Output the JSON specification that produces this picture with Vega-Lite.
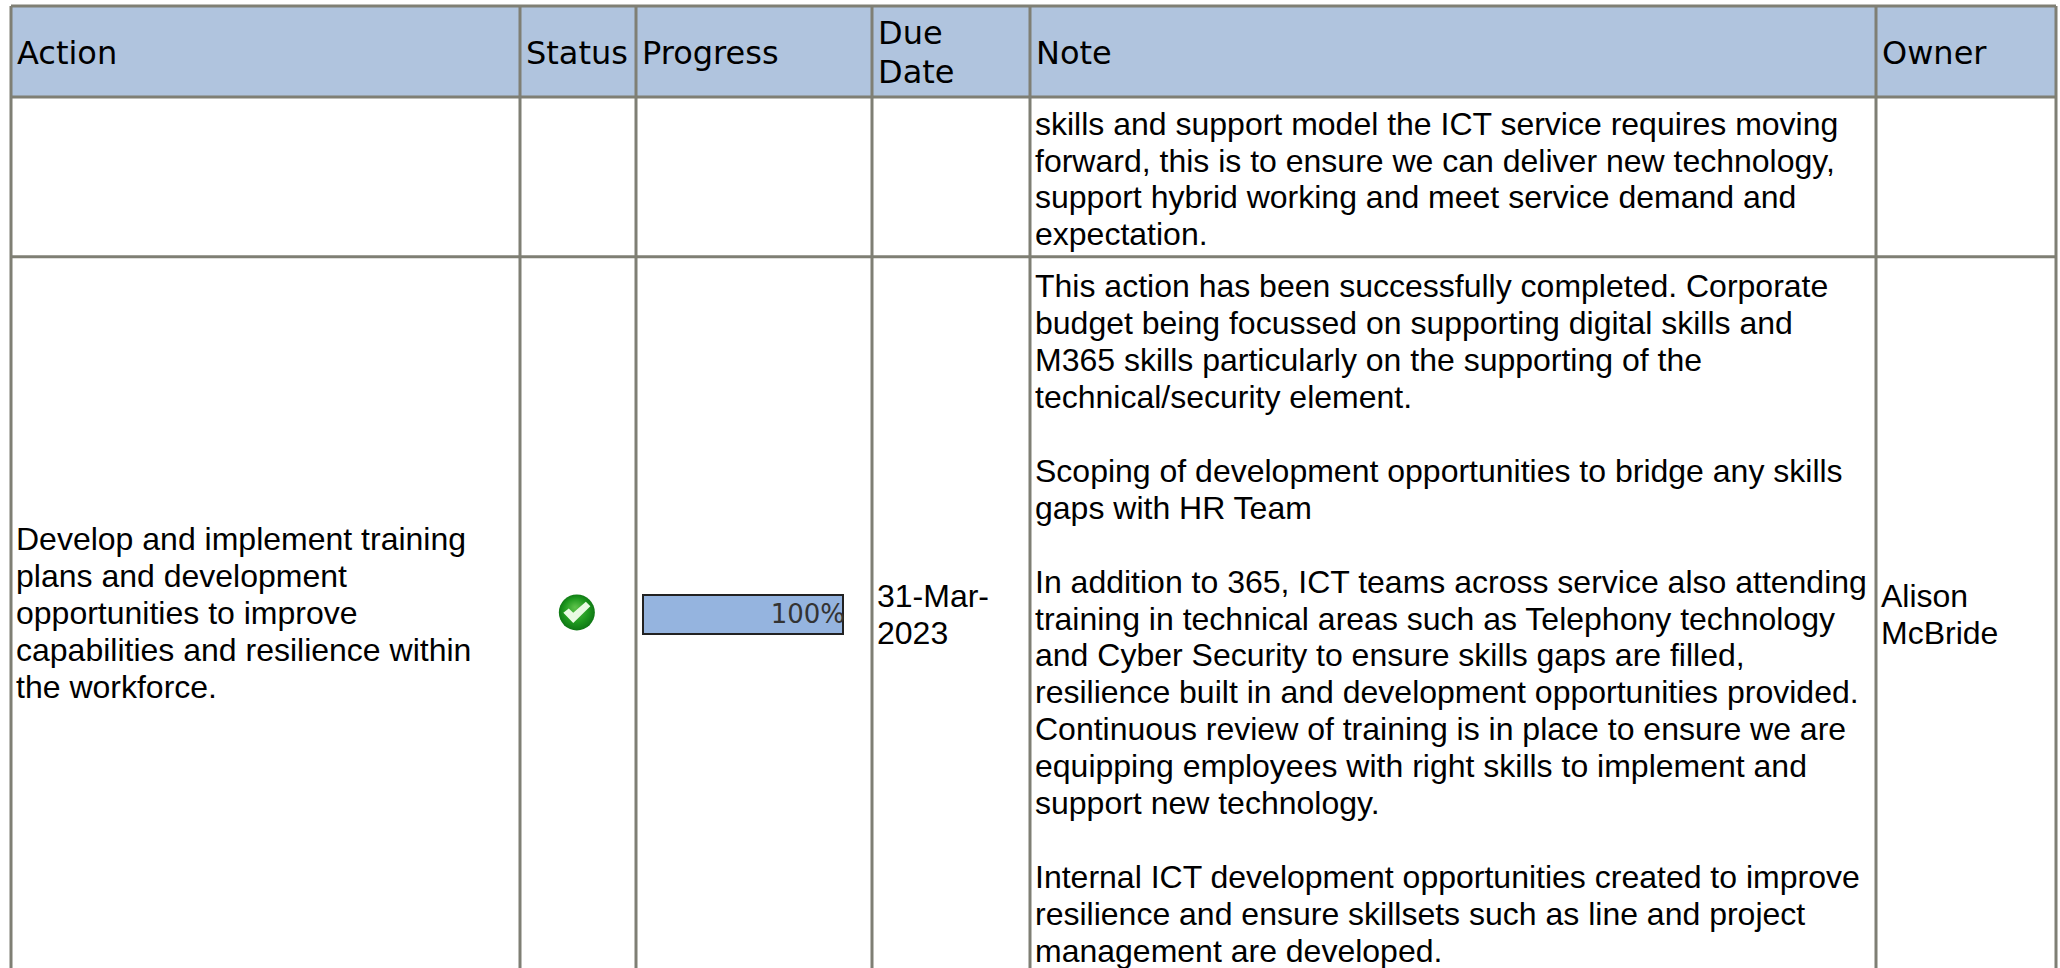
{
"$schema":"https://vega.github.io/schema/vega-lite/v6.json",
"autosize":{"type":"fit","contains":"padding"},"width":2060,"height":968,"padding":0,"background":"white",
"config":{"view":{"stroke":null}},
"datasets":{
"cols":[{"col":0,"top":-2,"bottom":23.43},{"col":1,"top":-2,"bottom":23.43},{"col":2,"top":-2,"bottom":23.43},{"col":3,"top":-2,"bottom":23.43},{"col":4,"top":-2,"bottom":23.43},{"col":5,"top":-2,"bottom":23.43},{"col":6,"top":-2,"bottom":23.43}],
"borders":[{"line":-2,"left":0,"right":6},{"line":0.46,"left":0,"right":6},{"line":4.42,"left":0,"right":6}],
"status":[{"col":1.49,"line":13.81,"task":"Develop and implement training plans"}],
"progress":[{"row":"r2","progress":100,"label":"100%"}],
"headers":[
{"col":0,"line":-0.5,"text":"Action"},{"col":1,"line":-0.5,"text":"Status"},{"col":2,"line":-0.5,"text":"Progress"},
{"col":3,"line":-1,"text":"Due"},{"col":3,"line":0,"text":"Date"},{"col":4,"line":-0.5,"text":"Note"},{"col":5,"line":-0.5,"text":"Owner"}],
"cells":[
{"col":4,"line":1,"text":"skills and support model the ICT service requires moving"},
{"col":4,"line":2,"text":"forward, this is to ensure we can deliver new technology,"},
{"col":4,"line":3,"text":"support hybrid working and meet service demand and"},
{"col":4,"line":4,"text":"expectation."},
{"col":4,"line":5,"text":"This action has been successfully completed. Corporate"},
{"col":4,"line":6,"text":"budget being focussed on supporting digital skills and"},
{"col":4,"line":7,"text":"M365 skills particularly on the supporting of the"},
{"col":4,"line":8,"text":"technical/security element."},
{"col":4,"line":10,"text":"Scoping of development opportunities to bridge any skills"},
{"col":4,"line":11,"text":"gaps with HR Team"},
{"col":4,"line":13,"text":"In addition to 365, ICT teams across service also attending"},
{"col":4,"line":14,"text":"training in technical areas such as Telephony technology"},
{"col":4,"line":15,"text":"and Cyber Security to ensure skills gaps are filled,"},
{"col":4,"line":16,"text":"resilience built in and development opportunities provided."},
{"col":4,"line":17,"text":"Continuous review of training is in place to ensure we are"},
{"col":4,"line":18,"text":"equipping employees with right skills to implement and"},
{"col":4,"line":19,"text":"support new technology."},
{"col":4,"line":21,"text":"Internal ICT development opportunities created to improve"},
{"col":4,"line":22,"text":"resilience and ensure skillsets such as line and project"},
{"col":4,"line":23,"text":"management are developed."},
{"col":0,"line":11.85,"text":"Develop and implement training"},
{"col":0,"line":12.85,"text":"plans and development"},
{"col":0,"line":13.85,"text":"opportunities to improve"},
{"col":0,"line":14.85,"text":"capabilities and resilience within"},
{"col":0,"line":15.85,"text":"the workforce."},
{"col":3,"line":13.39,"text":"31-Mar-"},
{"col":3,"line":14.39,"text":"2023"},
{"col":5,"line":13.39,"text":"Alison"},
{"col":5,"line":14.39,"text":"McBride"}]
},
"layer":[
{"encoding":{
 "x":{"field":"col","type":"quantitative","axis":null,"scale":{"domain":[0,1,2,3,4,5,6],"range":[11,520,636,872,1030,1876,2056],"nice":false,"zero":false}},
 "y":{"field":"line","type":"quantitative","axis":null,"scale":{"domain":[-2,-1,0,1,4,5,23,24],"range":[6,34,73,125,235,287,952,989],"nice":false,"zero":false}}},
 "layer":[
 {"data":{"values":[{"col":0,"col2":6,"line":-2,"line2":0.46}]},"mark":{"type":"rect","color":"#b0c4de"},"encoding":{"x2":{"field":"col2"},"y2":{"field":"line2"}}},
 {"data":{"name":"borders"},"mark":{"type":"rule","color":"#7f7f74","strokeWidth":3,"opacity":1},"encoding":{"x":{"field":"left","type":"quantitative"},"x2":{"field":"right"}}},
 {"data":{"name":"cols"},"mark":{"type":"rule","color":"#7f7f74","strokeWidth":3,"opacity":1},"encoding":{"y":{"field":"top","type":"quantitative"},"y2":{"field":"bottom"}}},
 {"data":{"name":"headers"},"mark":{"type":"text","align":"left","baseline":"middle","dx":6,"font":"DejaVu Sans","fontSize":32,"color":"#000"},"encoding":{"text":{"field":"text"}}},
 {"data":{"name":"cells"},"mark":{"type":"text","align":"left","baseline":"middle","dx":5,"font":"Liberation Sans","fontSize":32,"color":"#000"},"encoding":{"text":{"field":"text"}}},
 {"data":{"name":"status"},"mark":{"type":"point","filled":true,"shape":"circle","size":1296,"opacity":1,"color":{"gradient":"radial","x1":0.45,"y1":0.35,"x2":0.5,"y2":0.5,"r1":0,"r2":0.55,"stops":[{"offset":0,"color":"#5fc24c"},{"offset":0.6,"color":"#1f9a1f"},{"offset":1,"color":"#0b6f12"}]}}},
 {"data":{"name":"status"},"mark":{"type":"point","filled":true,"opacity":1,"size":1296,"color":"#e9fbe3","shape":"M-0.75 0.02 L-0.45 -0.22 L-0.2 0.02 L0.5 -0.6 L0.75 -0.34 L-0.2 0.58 Z"}}
 ]},
{"data":{"name":"progress"},"encoding":{
 "x":{"field":"progress","type":"quantitative","axis":null,"scale":{"domain":[0,100],"range":[643,843],"nice":false}},
 "y":{"field":"row","type":"nominal","axis":null,"scale":{"type":"band","domain":["r2"],"range":[595,634],"paddingInner":0,"paddingOuter":0}}},
 "layer":[
 {"mark":{"type":"bar","color":"#95b4df","stroke":"#222","strokeWidth":2}},
 {"mark":{"type":"text","align":"right","baseline":"middle","dx":2,"font":"DejaVu Sans","fontSize":26,"color":"#333"},"encoding":{"text":{"field":"label"}}}
 ]}
],
"resolve":{"scale":{"x":"independent","y":"independent"}}
}
